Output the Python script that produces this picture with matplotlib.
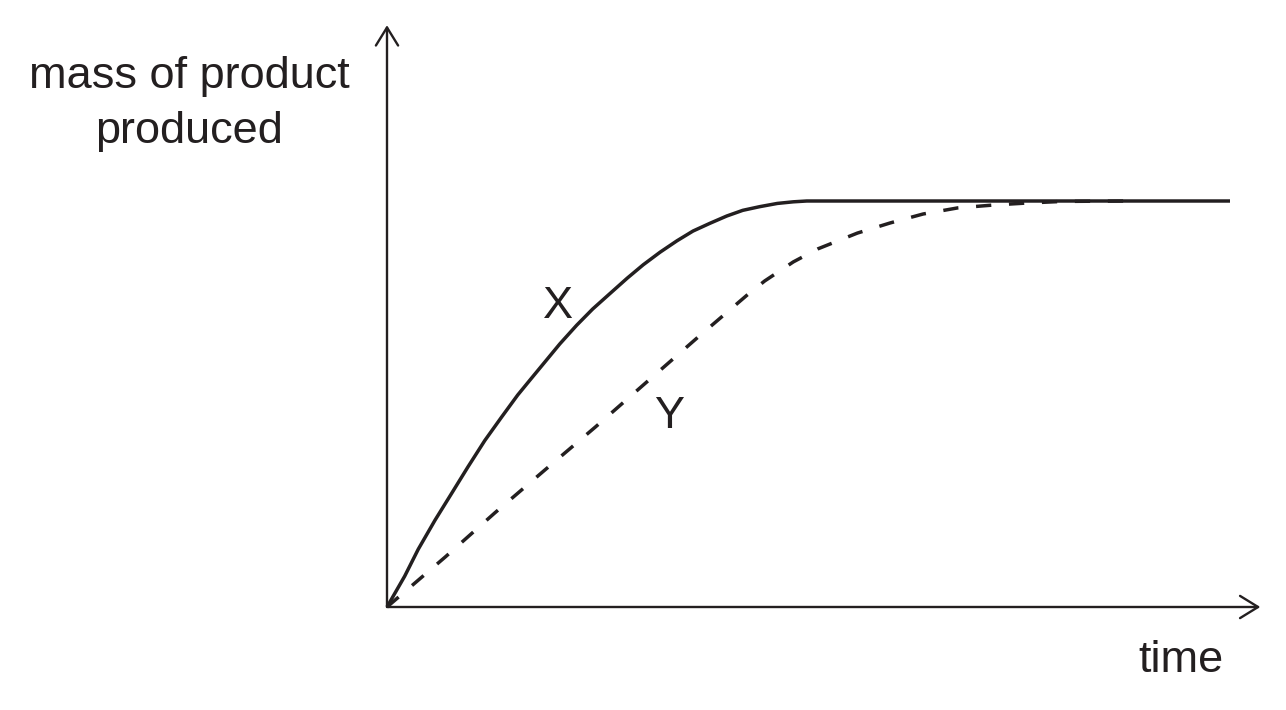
import matplotlib
matplotlib.use('Agg')
import matplotlib.pyplot as plt

# curve X (solid): time vs mass, arbitrary units (plateau = 100)
time_x = [0, 2.1, 3.7, 5.7, 7.7, 9.6, 11.6, 13.6, 15.5, 17.0, 20.5, 22.5, 24.4,
          26.5, 28.5, 30.4, 32.4, 34.4, 36.3, 38.3, 40.3, 42.2, 44.2, 46.3, 48.2,
          49.8, 100]
mass_x = [0, 7.6, 14.2, 21.4, 28.1, 34.5, 41.0, 46.8, 52.2, 56.0, 64.8, 69.4, 73.4,
          77.3, 81.0, 84.3, 87.4, 90.2, 92.6, 94.5, 96.3, 97.7, 98.6, 99.4, 99.8,
          100, 100]

# curve Y (dashed)
time_y = [0, 6.9, 12.8, 18.7, 24.7, 30.8, 36.8, 42.7, 44.8, 48.2, 51.1, 55.8, 59.7,
          63.6, 67.7, 71.9, 75.9, 80.2, 88.1]
mass_y = [0, 12.3, 23.2, 33.7, 44.3, 55.4, 66.3, 76.8, 80.3, 85.0, 88.2, 92.1, 94.6,
          96.8, 98.3, 99.0, 99.5, 99.9, 100]

ink = '#231f20'
W, H = 1286, 710

fig = plt.figure(figsize=(W / 100, H / 100), dpi=100)
# origin at pixel (387, 607), t=100 at px 1230, mass=100 at px 201
ax = fig.add_axes([387 / W, (H - 607) / H, (1230 - 387) / W, (607 - 201) / H])
ax.set_xlim(0, 100)
ax.set_ylim(0, 100)
ax.axis('off')

ax.plot(time_x, mass_x, color=ink, lw=2.5, solid_capstyle='butt',
        solid_joinstyle='round', clip_on=False)
ax.plot(time_y, mass_y, color=ink, lw=2.5, linestyle=(0, (4.4, 5.1)),
        dash_capstyle='butt', clip_on=False)

# axes with open arrow heads
arrow = dict(arrowstyle='->,head_length=1.3,head_width=0.8', color=ink, lw=1.7,
             shrinkA=0, shrinkB=0)
ax.annotate('', xy=(0, 143.3), xytext=(0, 0), arrowprops=arrow,
            annotation_clip=False)
ax.annotate('', xy=(103.6, 0), xytext=(0, 0), arrowprops=arrow,
            annotation_clip=False)

font = dict(family=['Liberation Sans', 'DejaVu Sans'], color=ink, fontsize=32.5)
fig.text(189 / W, 1 - 88 / H, 'mass of product', ha='center', va='baseline', **font)
fig.text(189 / W, 1 - 143 / H, 'produced', ha='center', va='baseline', **font)
fig.text(1181 / W, 1 - 672 / H, 'time', ha='center', va='baseline', **font)
fig.text(558 / W, 1 - 318 / H, 'X', ha='center', va='baseline', **font)
fig.text(669 / W, 1 - 428 / H, 'Y', ha='center', va='baseline', **font)

fig.savefig('out.png', dpi=100, facecolor='white')
